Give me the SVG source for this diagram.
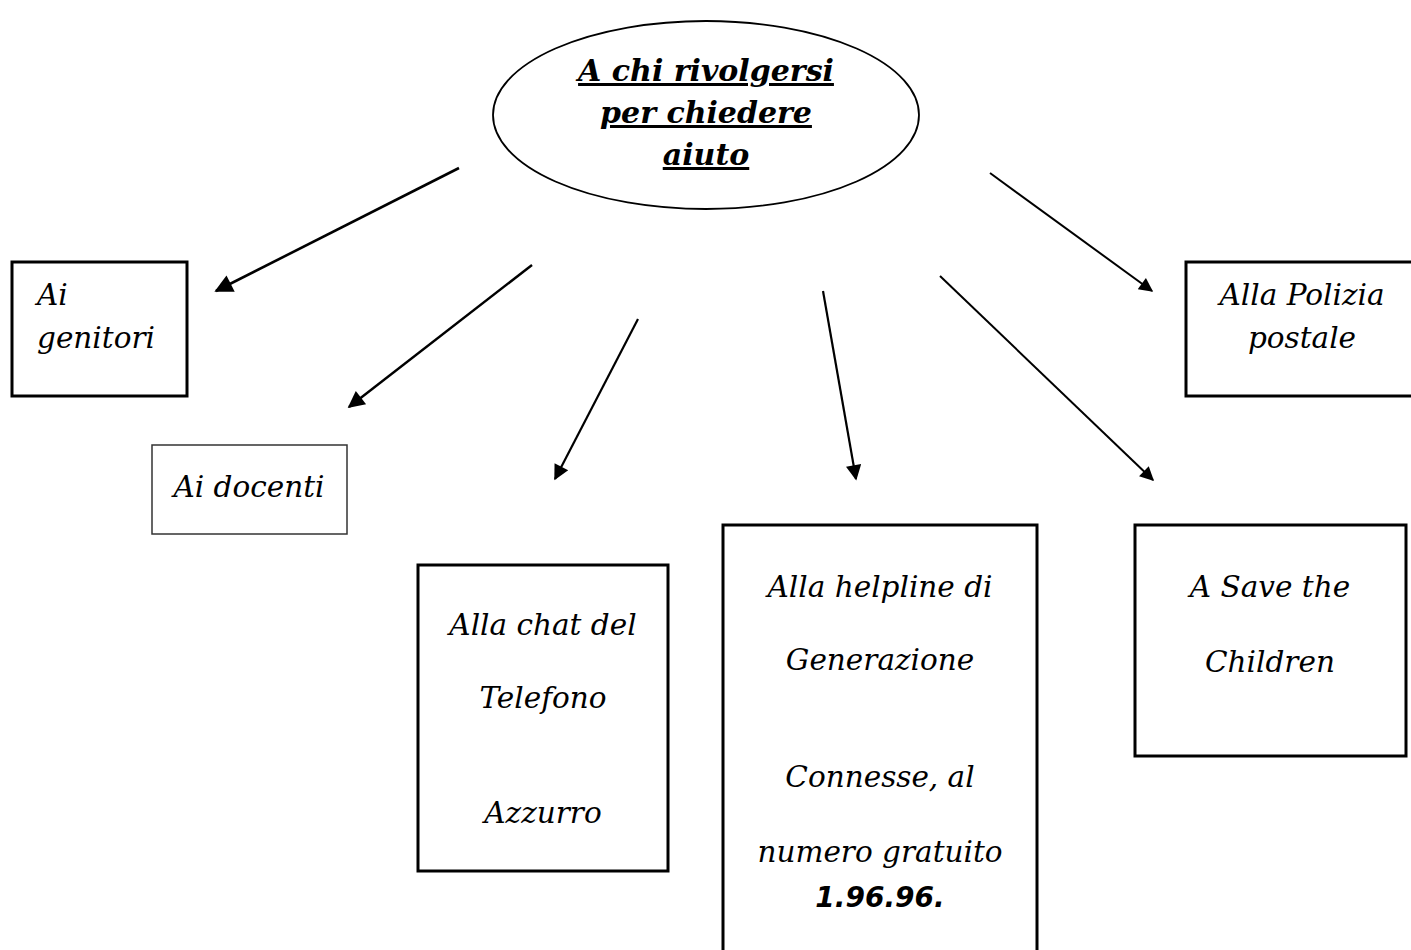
<svg xmlns="http://www.w3.org/2000/svg" width="1411" height="950" viewBox="0 0 1411 950">
<defs>
<style>
.box{fill:#fff;stroke:#000;stroke-width:3}
.thin{fill:#fff;stroke:#333;stroke-width:1.5}
.t{font-family:"DejaVu Serif","Liberation Serif",serif;font-style:italic;font-size:29.5px;fill:#000}
.m{text-anchor:middle}
.title{font-family:"DejaVu Serif","Liberation Serif",serif;font-style:italic;font-weight:bold;font-size:30px;text-anchor:middle;fill:#000;text-decoration:underline}
.num{font-family:"DejaVu Sans","Liberation Sans",sans-serif;font-style:italic;font-weight:bold;font-size:28px;text-anchor:middle}
.c{stroke:#000;stroke-width:2.2;fill:none;marker-end:url(#ah)}
</style>
<marker id="ah" viewBox="0 0 10 10" refX="9" refY="5" markerWidth="8.5" markerHeight="7" markerUnits="strokeWidth" orient="auto">
<path d="M0,0 L10,5 L0,10 Z" fill="#000"/>
</marker>
</defs>
<rect width="1411" height="950" fill="#fff"/>
<g id="connectors">
<line class="c" x1="459" y1="168" x2="216" y2="291" style="stroke-width:2.6"/>
<line class="c" x1="532" y1="265" x2="349" y2="407" style="stroke-width:2.4"/>
<line class="c" x1="638" y1="319" x2="555" y2="479"/>
<line class="c" x1="823" y1="291" x2="856" y2="479"/>
<line class="c" x1="940" y1="276" x2="1153" y2="480" style="stroke-width:2"/>
<line class="c" x1="990" y1="173" x2="1152" y2="291" style="stroke-width:2"/>
</g>
<g id="root">
<ellipse cx="706" cy="115" rx="213" ry="94" fill="#fff" stroke="#000" stroke-width="1.8"/>
<text class="title" x="706" y="81">A chi rivolgersi</text>
<text class="title" x="706" y="123">per chiedere</text>
<text class="title" x="706" y="165">aiuto</text>
</g>
<g id="genitori">
<rect class="box" x="12" y="262" width="175" height="134"/>
<text class="t" x="37" y="305">Ai</text>
<text class="t" x="37" y="348">genitori</text>
</g>
<g id="docenti">
<rect class="thin" x="152" y="445" width="195" height="89"/>
<text class="t m" x="249" y="497">Ai docenti</text>
</g>
<g id="telefono">
<rect class="box" x="418" y="565" width="250" height="306"/>
<text class="t m" x="543" y="635">Alla chat del</text>
<text class="t m" x="543" y="708">Telefono</text>
<text class="t m" x="543" y="823">Azzurro</text>
</g>
<g id="helpline">
<rect class="box" x="723" y="525" width="314" height="440"/>
<text class="t m" x="880" y="597">Alla helpline di</text>
<text class="t m" x="880" y="670">Generazione</text>
<text class="t m" x="880" y="787">Connesse, al</text>
<text class="t m" x="880" y="862">numero gratuito</text>
<text class="num" x="880" y="907">1.96.96.</text>
</g>
<g id="polizia">
<rect class="box" x="1186" y="262" width="240" height="134"/>
<text class="t m" x="1302" y="305">Alla Polizia</text>
<text class="t m" x="1302" y="348">postale</text>
</g>
<g id="savechildren">
<rect class="box" x="1135" y="525" width="271" height="231"/>
<text class="t m" x="1270" y="597">A Save the</text>
<text class="t m" x="1270" y="672">Children</text>
</g>
</svg>
